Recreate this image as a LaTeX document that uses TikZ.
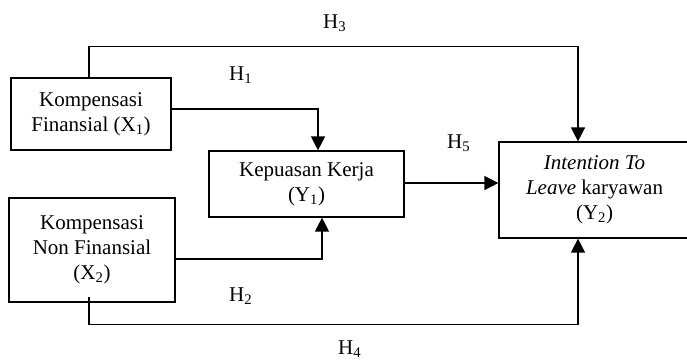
\documentclass[tikz,border=0pt]{standalone}
\usepackage{fontspec}
\setmainfont{Liberation Serif}
\usetikzlibrary{arrows.meta,calc}
\begin{document}
\begin{tikzpicture}[x=1pt,y=-1pt,
  every node/.style={font=\fontsize{21}{25}\selectfont},
  var/.style={draw,line width=1.2pt,align=center,inner sep=0pt},
  link/.style={line width=1.4pt},
  arr/.style={link,-{Triangle[length=14pt,width=14pt]}},
  hlabel/.style={anchor=base west,inner sep=0pt}]
\useasboundingbox (0,0) rectangle (687,360);

% variables
\node[var,minimum width=160pt,minimum height=72pt] (x1) at (91,114)
  {Kompensasi\\Finansial (X\textsubscript{1})};
\node[var,minimum width=166pt,minimum height=104pt] (x2) at (92,250)
  {Kompensasi\\Non Finansial\\(X\textsubscript{2})};
\node[var,minimum width=195pt,minimum height=66pt] (y1) at (306.5,184)
  {Kepuasan Kerja\\(Y\textsubscript{1})};
\node[var,minimum width=191pt,minimum height=96pt] (y2) at (594.5,190)
  {\textit{Intention To}\\\textit{Leave} karyawan\\(Y\textsubscript{2})};

% hypothesis paths
\draw[arr] ([xshift=-2pt]x1.north) -- ++(0,-31) -| ([xshift=-16.5pt]y2.north);
\draw[arr] ([yshift=5pt]x1.east) -| ([xshift=11.5pt]y1.north);
\draw[arr] ([yshift=-9pt]x2.east) -| ([xshift=15.5pt]y1.south);
\draw[arr] ([yshift=1pt]y1.east) -- ([yshift=1pt]y1.east -| y2.west);
\draw[arr] ([xshift=-3pt,yshift=6pt]x2.south) -- ++(0,28) -| ([xshift=-16.5pt]y2.south);

% hypothesis labels
\node[hlabel] (h1) at (229,80) {H\textsubscript{1}};
\node[hlabel] (h2) at (229,301) {H\textsubscript{2}};
\node[hlabel] (h3) at (323,28) {H\textsubscript{3}};
\node[hlabel] (h4) at (338,354) {H\textsubscript{4}};
\node[hlabel] (h5) at (447,148) {H\textsubscript{5}};
\end{tikzpicture}
\end{document}
